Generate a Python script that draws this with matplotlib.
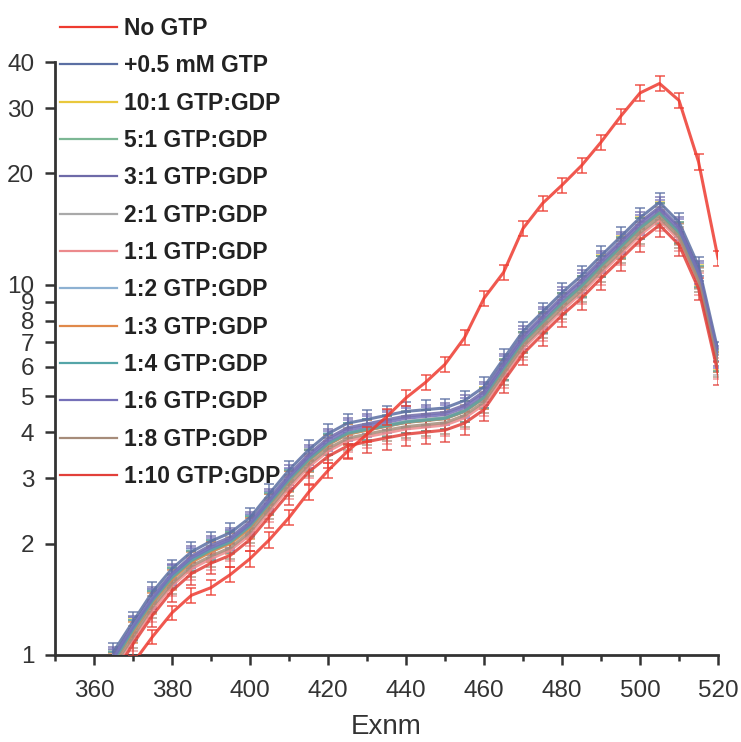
import matplotlib
matplotlib.use("Agg")
from matplotlib import pyplot as plt
from matplotlib import font_manager
from matplotlib.ticker import FixedLocator, NullFormatter

# fonts: narrow Arial look-alike if we have it
names = set(f.name for f in font_manager.fontManager.ttflist)
narrow = "Liberation Sans Narrow" if "Liberation Sans Narrow" in names else "Liberation Sans"

# wavelength grid (nm)
wl = [365, 370, 375, 380, 385, 390, 395, 400, 405, 410, 415, 420, 425, 430, 435, 440,
      445, 450, 455, 460, 465, 470, 475, 480, 485, 490, 495, 500, 505, 510, 515, 520]

no_gtp = [0.85, 0.95, 1.12, 1.3, 1.45, 1.52, 1.65, 1.82, 2.05, 2.35, 2.75, 3.15, 3.55, 3.95, 4.4, 4.95,
          5.45, 6.1, 7.2, 9.2, 10.8, 14.2, 16.6, 18.6, 21.0, 24.3, 28.5, 33.0, 35.0, 31.5, 21.5, 11.8]
no_gtp_err = [0.04, 0.04, 0.05, 0.06, 0.07, 0.07, 0.08, 0.09, 0.1, 0.11, 0.13, 0.15, 0.17, 0.19, 0.21, 0.24,
              0.26, 0.29, 0.34, 0.44, 0.52, 0.68, 0.8, 0.9, 1.0, 1.17, 1.37, 1.58, 1.68, 1.51, 1.03, 0.57]

gtp_05 = [1.02, 1.23, 1.48, 1.71, 1.9, 2.03, 2.14, 2.35, 2.73, 3.16, 3.58, 3.96, 4.23, 4.33, 4.44, 4.55,
          4.6, 4.65, 4.87, 5.3, 6.31, 7.49, 8.45, 9.52, 10.6, 11.98, 13.48, 15.19, 16.7, 14.77, 11.24, 6.63]
r10_1 = [0.97, 1.18, 1.4, 1.63, 1.8, 1.92, 2.03, 2.24, 2.58, 2.98, 3.38, 3.72, 3.97, 4.08, 4.17, 4.27,
         4.32, 4.37, 4.57, 4.97, 5.92, 7.02, 7.95, 8.95, 9.95, 11.3, 12.7, 14.3, 15.7, 13.9, 10.6, 6.3]
r5_1 = [0.96, 1.17, 1.4, 1.62, 1.8, 1.91, 2.02, 2.22, 2.56, 2.96, 3.36, 3.71, 3.96, 4.06, 4.16, 4.26,
        4.31, 4.36, 4.56, 4.96, 5.9, 7.0, 7.9, 8.9, 9.9, 11.2, 12.6, 14.2, 15.6, 13.8, 10.5, 6.2]
r3_1 = [0.99, 1.2, 1.44, 1.66, 1.85, 1.98, 2.08, 2.29, 2.65, 3.07, 3.48, 3.85, 4.11, 4.21, 4.32, 4.42,
        4.47, 4.52, 4.73, 5.15, 6.14, 7.28, 8.22, 9.26, 10.3, 11.65, 13.1, 14.77, 16.22, 14.35, 10.92, 6.45]
r2_1 = [0.96, 1.16, 1.39, 1.61, 1.79, 1.9, 2.01, 2.21, 2.56, 2.96, 3.35, 3.7, 3.95, 4.05, 4.15, 4.25,
        4.3, 4.35, 4.55, 4.95, 5.88, 6.98, 7.88, 8.88, 9.88, 11.2, 12.6, 14.2, 15.5, 13.7, 10.4, 6.1]
r1_1 = [0.91, 1.1, 1.32, 1.54, 1.71, 1.82, 1.92, 2.11, 2.45, 2.83, 3.22, 3.55, 3.79, 3.89, 3.98, 4.08,
        4.13, 4.18, 4.37, 4.75, 5.66, 6.72, 7.58, 8.54, 9.5, 10.75, 12.1, 13.63, 14.98, 13.25, 10.08, 5.95]
r1_2 = [0.97, 1.19, 1.42, 1.64, 1.82, 1.93, 2.04, 2.25, 2.59, 2.99, 3.38, 3.73, 3.98, 4.08, 4.17, 4.27,
        4.32, 4.37, 4.56, 4.96, 5.9, 7.0, 7.9, 8.9, 9.9, 11.2, 12.6, 14.2, 15.6, 13.8, 10.5, 6.2]
r1_3 = [0.95, 1.15, 1.38, 1.6, 1.78, 1.9, 2.0, 2.2, 2.55, 2.95, 3.35, 3.7, 3.95, 4.05, 4.15, 4.25,
        4.3, 4.35, 4.55, 4.95, 5.9, 7.0, 7.9, 8.9, 9.9, 11.2, 12.6, 14.2, 15.6, 13.8, 10.5, 6.2]
r1_4 = [0.96, 1.17, 1.4, 1.62, 1.8, 1.92, 2.02, 2.23, 2.57, 2.97, 3.37, 3.72, 3.97, 4.07, 4.16, 4.26,
        4.31, 4.36, 4.56, 4.96, 5.92, 7.02, 7.92, 8.92, 9.92, 11.25, 12.65, 14.25, 15.65, 13.85, 10.55, 6.25]
r1_6 = [0.98, 1.19, 1.42, 1.65, 1.83, 1.95, 2.05, 2.26, 2.61, 3.02, 3.43, 3.79, 4.05, 4.15, 4.25, 4.36,
        4.41, 4.46, 4.66, 5.07, 6.05, 7.17, 8.1, 9.12, 10.15, 11.48, 12.92, 14.56, 15.99, 14.15, 10.76, 6.36]
r1_8 = [0.93, 1.12, 1.35, 1.56, 1.74, 1.85, 1.95, 2.15, 2.49, 2.88, 3.27, 3.61, 3.85, 3.95, 4.05, 4.14,
        4.19, 4.24, 4.44, 4.83, 5.75, 6.83, 7.7, 8.68, 9.65, 10.92, 12.29, 13.85, 15.21, 13.46, 10.24, 6.05]
r1_10 = [0.88, 1.07, 1.28, 1.49, 1.66, 1.77, 1.86, 2.05, 2.37, 2.74, 3.12, 3.44, 3.67, 3.77, 3.86, 3.95,
         4.0, 4.05, 4.23, 4.6, 5.49, 6.51, 7.35, 8.28, 9.21, 10.42, 11.72, 13.21, 14.51, 12.83, 9.77, 5.77]
# shared error for the GTP/GDP mixtures
mix_err = [0.06, 0.075, 0.09, 0.1, 0.115, 0.12, 0.13, 0.14, 0.165, 0.19, 0.22, 0.24, 0.26, 0.26, 0.27, 0.28,
           0.28, 0.28, 0.3, 0.32, 0.38, 0.45, 0.51, 0.58, 0.64, 0.73, 0.82, 0.92, 1.0, 0.9, 0.68, 0.4]

labels = ["No GTP", "+0.5 mM GTP", "10:1 GTP:GDP", "5:1 GTP:GDP", "3:1 GTP:GDP", "2:1 GTP:GDP",
          "1:1 GTP:GDP", "1:2 GTP:GDP", "1:3 GTP:GDP", "1:4 GTP:GDP", "1:6 GTP:GDP", "1:8 GTP:GDP",
          "1:10 GTP:GDP"]
series = [no_gtp, gtp_05, r10_1, r5_1, r3_1, r2_1, r1_1, r1_2, r1_3, r1_4, r1_6, r1_8, r1_10]
colors = ["#ee3b30", "#5b6fa3", "#e9c83c", "#7cb794", "#6e6aa8", "#a9a9a9", "#ec8a8c",
          "#8db1d2", "#e0894a", "#55a5a8", "#7570b8", "#a68c7a", "#e2403a"]

yticks = [1, 2, 3, 4, 5, 6, 7, 8, 9, 10, 20, 30, 40]

fig = plt.figure(figsize=(7.41, 7.42), dpi=100)
ax = fig.add_axes([0.0742, 0.1173, 0.8948, 0.7991])

handles = []
for i in range(len(series)):
    err = no_gtp_err if i == 0 else mix_err
    z = 5 if i == 0 else 3
    ax.errorbar(wl, series[i], yerr=err, color=colors[i], lw=2.2, elinewidth=1.1,
                capsize=3.5, capthick=1.1, zorder=z, alpha=0.85)
    h, = ax.plot([], [], color=colors[i], lw=1.6)
    handles.append(h)

ax.set_yscale("log")
ax.set_xlim(350, 520)
ax.set_ylim(1, 40)
ax.yaxis.set_major_locator(FixedLocator(yticks))
ax.yaxis.set_minor_locator(FixedLocator([]))
ax.yaxis.set_minor_formatter(NullFormatter())
ax.set_yticklabels([str(t) for t in yticks])
ax.set_xticks(range(360, 521, 20))
ax.set_xticks(range(350, 520, 20), minor=True)

for s in ["top", "right"]:
    ax.spines[s].set_visible(False)
for s in ["left", "bottom"]:
    ax.spines[s].set_linewidth(2)
    ax.spines[s].set_color("#333333")
ax.tick_params(which="major", direction="out", length=7, width=1.8, color="#333333",
               labelsize=17.5, labelcolor="#333333")
ax.tick_params(axis="x", which="major", pad=11)
ax.tick_params(axis="y", which="major", pad=8)
ax.tick_params(which="minor", direction="out", length=4, width=1.8, color="#333333")
for lab in ax.get_xticklabels() + ax.get_yticklabels():
    lab.set_family(narrow)

ax.set_xlabel("Exnm", fontsize=20, family="Liberation Sans", color="#333333", labelpad=9)

leg = fig.legend(handles, labels, loc="upper left", bbox_to_anchor=(0.081, 0.977),
                 frameon=False, borderpad=0, borderaxespad=0, handlelength=2.5,
                 handletextpad=0.3, labelspacing=0.625,
                 prop={"family": narrow, "size": 16.5, "weight": "bold"})
for t in leg.get_texts():
    t.set_color("#222222")

fig.savefig("out.png", dpi=100)
